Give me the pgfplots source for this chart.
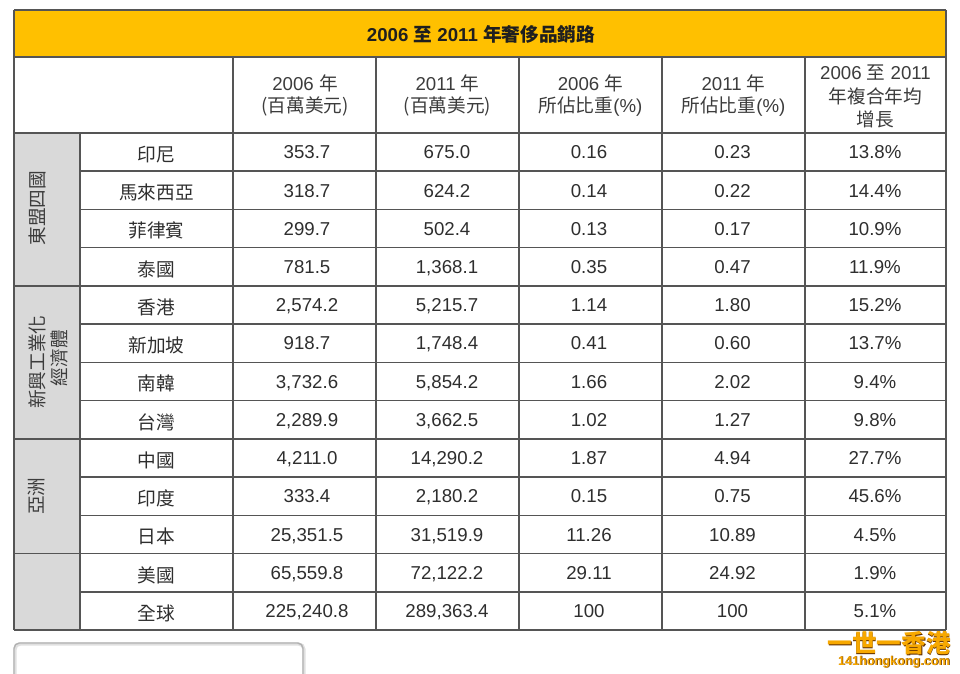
\documentclass[border=0pt]{standalone}
\usepackage{pgfplots}
\usepackage{pgfplotstable}
\pgfplotsset{compat=1.18}
\usepackage{fontspec}
\setmainfont{Liberation Sans}
\newfontfamily\cjk{Noto Sans CJK TC}
\definecolor{titleyellow}{HTML}{FFC000}
\definecolor{cellgray}{HTML}{D9D9D9}
\definecolor{linegray}{HTML}{555555}
\definecolor{txt}{HTML}{2E2E2E}
\definecolor{hdr}{HTML}{3C3C3C}
\definecolor{wmorange}{HTML}{F7A800}
\definecolor{wmdark}{HTML}{5A2A00}

\pgfplotstableread{
y name a b c d e
152.2 印尼 353.7 675.0 0.16 0.23 13.8\%
190.4 馬來西亞 318.7 624.2 0.14 0.22 14.4\%
228.6 菲律賓 299.7 502.4 0.13 0.17 10.9\%
266.8 泰國 781.5 1,368.1 0.35 0.47 11.9\%
305.0 香港 2,574.2 5,215.7 1.14 1.80 15.2\%
343.3 新加坡 918.7 1,748.4 0.41 0.60 13.7\%
381.5 南韓 3,732.6 5,854.2 1.66 2.02 9.4\%
419.7 台灣 2,289.9 3,662.5 1.02 1.27 9.8\%
458.0 中國 4,211.0 14,290.2 1.87 4.94 27.7\%
496.2 印度 333.4 2,180.2 0.15 0.75 45.6\%
534.4 日本 25,351.5 31,519.9 11.26 10.89 4.5\%
572.7 美國 65,559.8 72,122.2 29.11 24.92 1.9\%
610.9 全球 225,240.8 289,363.4 100 100 5.1\%
}\datatable

\begin{document}
\begin{tikzpicture}
\path[use as bounding box] (0,0) rectangle (720pt,505.5pt);
\begin{axis}[
  at={(0,0)}, anchor=south west,
  scale only axis, width=720pt, height=505.5pt,
  xmin=0, xmax=960, ymin=0, ymax=674, y dir=reverse,
  hide axis, clip=false,
  unbounded coords=jump,
  cellnodes/.style={draw=none, mark=none, nodes near coords,
    point meta=explicit symbolic,
    every node near coord/.style={anchor=center, inner sep=0pt, text=txt,
      text height=10pt, text depth=0pt,
      font=\fontsize{14pt}{17pt}\selectfont}},
]
% backgrounds
\addplot[fill=titleyellow, draw=none] coordinates {(14,10) (946,10) (946,57) (14,57)};
\addplot[fill=cellgray, draw=none] coordinates {(14,133) (80,133) (80,630) (14,630)};
% grid lines
\addplot[linegray, line width=1.15pt, mark=none] coordinates {
 (14,10) (946,10) (nan,nan)
 (14,57) (946,57) (nan,nan)
 (14,133) (946,133) (nan,nan)
 (80,171.2) (946,171.2) (nan,nan)
 (80,209.5) (946,209.5) (nan,nan)
 (80,247.7) (946,247.7) (nan,nan)
 (14,285.9) (946,285.9) (nan,nan)
 (80,324.2) (946,324.2) (nan,nan)
 (80,362.4) (946,362.4) (nan,nan)
 (80,400.6) (946,400.6) (nan,nan)
 (14,438.8) (946,438.8) (nan,nan)
 (80,477.1) (946,477.1) (nan,nan)
 (80,515.3) (946,515.3) (nan,nan)
 (14,553.5) (946,553.5) (nan,nan)
 (80,591.8) (946,591.8) (nan,nan)
 (14,630) (946,630) (nan,nan)
 (14,10) (14,630) (nan,nan)
 (946,10) (946,630) (nan,nan)
 (80,133) (80,630) (nan,nan)
 (233,57) (233,630) (nan,nan)
 (376,57) (376,630) (nan,nan)
 (519,57) (519,630) (nan,nan)
 (662,57) (662,630) (nan,nan)
 (805,57) (805,630)
};
% cell texts
\addplot[cellnodes, every node near coord/.append style={font=\fontsize{14pt}{17pt}\selectfont\cjk, yshift=-2pt}] table[x expr=156.5, y=y, meta=name] {\datatable};
\addplot[cellnodes] table[x expr=307, y=y, meta=a] {\datatable};
\addplot[cellnodes] table[x expr=447, y=y, meta=b] {\datatable};
\addplot[cellnodes] table[x expr=589, y=y, meta=c] {\datatable};
\addplot[cellnodes] table[x expr=732.5, y=y, meta=d] {\datatable};
\addplot[cellnodes] table[x expr=875, y=y, meta=e] {\datatable};

% title
\node[text=black!88, font=\fontsize{14pt}{17pt}\selectfont\bfseries] at (axis cs:481,34)
  {2006 {\cjk\bfseries 至} 2011 {\cjk\bfseries 年奢侈品銷路}};
% headers
\tikzset{hd/.style={text=hdr, align=center, font=\fontsize{14pt}{16.8pt}\selectfont, inner sep=0pt}}
\node[hd] at (axis cs:305,95.5) {2006 {\cjk 年}\\{\cjk (百萬美元)}};
\node[hd] at (axis cs:447.5,95.5) {2011 {\cjk 年}\\{\cjk (百萬美元)}};
\node[hd] at (axis cs:590.5,95.5) {2006 {\cjk 年}\\{\cjk 所佔比重}(\%)};
\node[hd] at (axis cs:733.5,95.5) {2011 {\cjk 年}\\{\cjk 所佔比重}(\%)};
\node[hd, font=\fontsize{14pt}{17.5pt}\selectfont] at (axis cs:875.5,96.5) {2006 {\cjk 至} 2011\\{\cjk 年複合年均}\\{\cjk 增長}};
% group labels
\tikzset{gp/.style={text=hdr, rotate=90, inner sep=0pt, font=\fontsize{14pt}{17pt}\selectfont\cjk}}
\node[gp] at (axis cs:37,208) {東盟四國};
\node[gp] at (axis cs:37,362) {新興工業化};
\node[gp] at (axis cs:59,358) {經濟體};
\node[gp] at (axis cs:37,496) {亞洲};

% callout box top edge
\addplot[color=black!12, line width=2.4pt, mark=none, rounded corners=4pt] coordinates {(15,674) (15,644) (304,644) (304,674)};
\addplot[color=black!30, line width=1.1pt, mark=none, rounded corners=4pt] coordinates {(14,674) (14,643) (303,643) (303,674)};

% watermark
\node[text=wmdark, font=\fontsize{18.5pt}{20pt}\selectfont\cjk\bfseries] at (axis cs:889.8,643.8) {一世一香港};
\node[text=wmorange, font=\fontsize{18.5pt}{20pt}\selectfont\cjk\bfseries] at (axis cs:889,643) {一世一香港};
\node[text=wmdark, font=\fontsize{9.5pt}{10pt}\selectfont\bfseries] at (axis cs:894.6,662.6) {141hongkong.com};
\node[text=wmorange, font=\fontsize{9.5pt}{10pt}\selectfont\bfseries] at (axis cs:894,662) {141hongkong.com};
\end{axis}
\end{tikzpicture}
\end{document}
